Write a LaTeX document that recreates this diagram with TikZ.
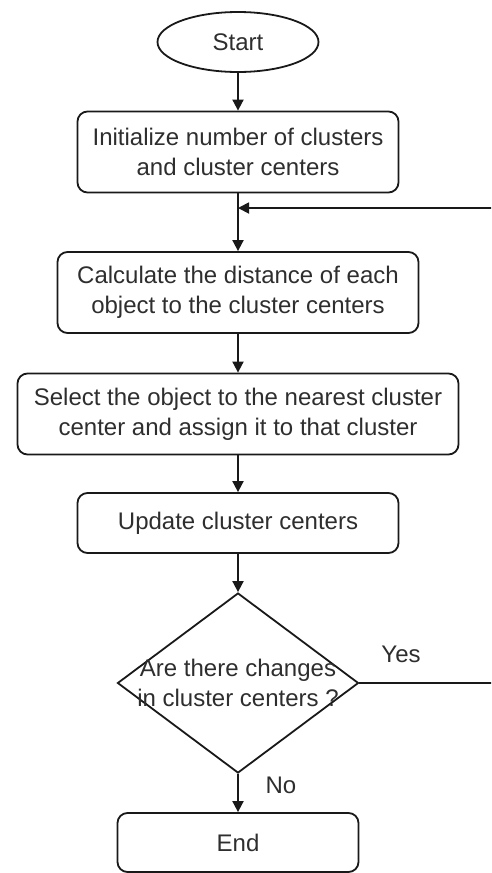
\documentclass[tikz,border=0pt]{standalone}
\usepackage{fontspec}
\setmainfont{Liberation Sans}
\usetikzlibrary{shapes.geometric,arrows.meta}
\begin{document}
\begin{tikzpicture}[x=1pt,y=1pt,
  every node/.style={font=\fontsize{24}{30}\selectfont, text=black!82},
  base/.style={draw=black!90, line width=1.8pt, inner sep=0pt},
  procbox/.style={base, rectangle, rounded corners=10pt, align=center},
  termoval/.style={base, ellipse},
  decide/.style={base, diamond},
  flow/.style={draw=black!90, line width=1.8pt, -{Triangle[length=11pt,width=11pt]}},
  lbl/.style={inner sep=0pt}
]
\clip (0,0) rectangle (491,-873);
\node[termoval, minimum width=161pt, minimum height=60pt] (start) at (238,-42) {Start};
\node[procbox, minimum width=321pt, minimum height=81pt] (b1) at (238,-152) {Initialize number of clusters\\and cluster centers};
\node[procbox, minimum width=361pt, minimum height=81pt] (b2) at (238,-292.5) {Calculate the distance of each\\object to the cluster centers};
\node[procbox, minimum width=441pt, minimum height=81pt] (b3) at (238,-414) {Select the object to the nearest cluster\\center and assign it to that cluster};
\node[procbox, minimum width=321pt, minimum height=60pt] (b4) at (238,-523) {Update cluster centers};
\node[decide, minimum width=241pt, minimum height=180pt, shape aspect=1.339] (d) at (238,-683) {};
\node[lbl, align=center] (dtext) at (238,-683) {Are there changes\\in cluster centers ?};
\node[procbox, minimum width=241pt, minimum height=59pt] (e) at (238,-842.5) {End};
\node[lbl] (yes) at (401,-654) {Yes};
\node[lbl] (no) at (281,-785) {No};
\coordinate (j) at (238,-208);
\coordinate (rt) at (500,-683);
\coordinate (rb) at (500,-208);
\draw[flow] (start) -- (b1);
\draw[flow] (b1) -- (b2);
\draw[flow] (b2) -- (b3);
\draw[flow] (b3) -- (b4);
\draw[flow] (b4) -- (d);
\draw[flow] (d) -- (e);
\draw[flow] (d.east) -- (rt) -- (rb) -- (j);
\end{tikzpicture}
\end{document}
